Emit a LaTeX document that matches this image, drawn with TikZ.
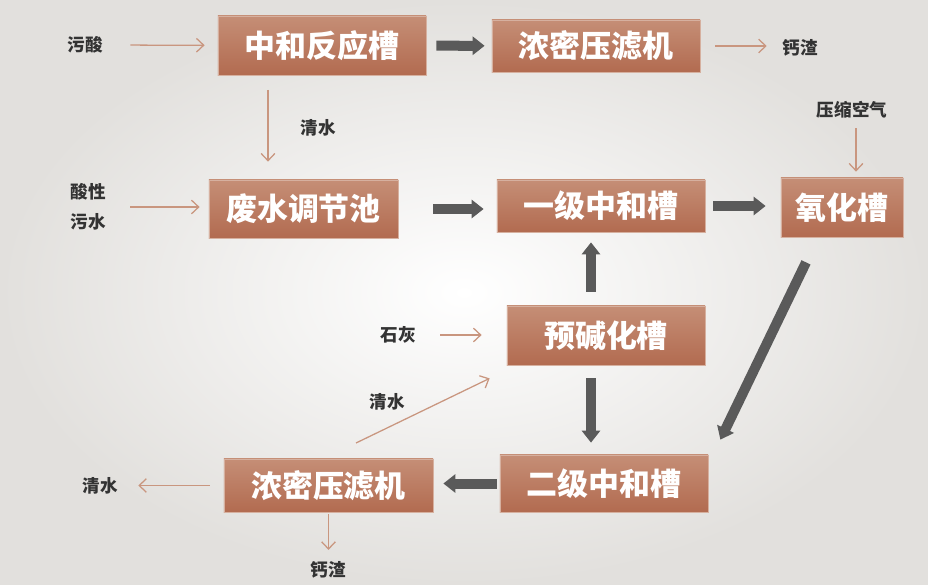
\documentclass[tikz,border=0pt]{standalone}
\usepackage{fontspec}
\setmainfont{Noto Sans CJK SC}
\usepackage{tikz}
\usetikzlibrary{arrows.meta, calc}
\definecolor{boxtop}{HTML}{C58E76}
\definecolor{boxbot}{HTML}{B26B50}
\definecolor{feedline}{HTML}{C9967F}
\definecolor{flowline}{HTML}{5A5A5A}
\definecolor{lbltext}{HTML}{333333}
\definecolor{bgedge}{HTML}{E2E0DD}

\begin{document}
\begin{tikzpicture}[x=0.025cm, y=-0.025cm,
      blk/.style={top color=boxtop, bottom color=boxbot, draw=boxtop!70!white, line width=0.5pt,
                  text=white, font=\fontsize{22}{25}\selectfont\bfseries, inner sep=0pt,
                  minimum width=5.2cm, minimum height=1.3cm},
      lbl/.style={text=lbltext, font=\fontsize{12.5}{21}\selectfont\bfseries, align=center, inner sep=1pt},
      feed/.style={draw=feedline, line width=0.9pt, -{Straight Barb[length=0.18cm, width=0.34cm]}},
      flow/.style={draw=flowline, line width=0.25cm, -{Triangle[length=0.3cm, width=0.45cm]}}]
      % background
      \shade[inner color=white, outer color=bgedge] (0,0) rectangle (928,585);
      \useasboundingbox (0,0) rectangle (928,585);

      % process boxes
      \node[blk, minimum height=1.475cm] (react) at (322,45.5) {中和反应槽};
      \node[blk] (press) at (596,46) {浓密压滤机};
      \node[blk, minimum width=4.725cm, minimum height=1.45cm] (pool) at (303.5,209) {废水调节池};
      \node[blk] (first) at (601,206) {一级中和槽};
      \node[blk, minimum width=3.05cm, minimum height=1.475cm] (oxid) at (842,207.5) {氧化槽};
      \node[blk, minimum width=4.95cm, minimum height=1.475cm] (prealk) at (606,335.5) {预碱化槽};
      \node[blk, minimum height=1.425cm] (second) at (604,483.5) {二级中和槽};
      \node[blk, minimum width=5.225cm, minimum height=1.325cm] (pressb) at (328.5,485.5) {浓密压滤机};

      % side labels
      \node[lbl] (acid) at (85,45) {污酸};
      \node[lbl] (slag1) at (800,48) {钙渣};
      \node[lbl] (water1) at (318,128) {清水};
      \node[lbl] (waste) at (88,207) {酸性\\污水};
      \node[lbl] (air) at (852,110) {压缩空气};
      \node[lbl] (lime) at (398,335) {石灰};
      \node[lbl] (water2) at (387,402) {清水};
      \node[lbl] (water3) at (100,486) {清水};
      \node[lbl] (slag2) at (328,570) {钙渣};

      \coordinate (c1) at (268,0);
      \coordinate (c2) at (856,0);
      \coordinate (c3) at (356,443);
      \coordinate (c4) at (591,0);

      % thin feeds
      \draw[feed, shorten <=0.65cm, shorten >=0.325cm] (acid) -- (react);
      \draw[feed, shorten <=0.375cm, shorten >=0.35cm] (press.east) -- (press.east -| slag1.west);
      \draw[feed, shorten <=0.36cm, shorten >=0.45cm] (react.south -| c1) -- (pool.north -| c1);
      \draw[feed, shorten <=0.575cm, shorten >=0.225cm] (waste.east) -- (waste.east -| pool.west);
      \draw[feed, shorten <=0.2cm, shorten >=0.15cm] (air.south -| c2) -- (oxid.north -| c2);
      \draw[feed, shorten <=0.575cm, shorten >=0.625cm] (lime.east) -- (lime.east -| prealk.west);
      \draw[feed] (c3) -- ($(prealk.south west)+(-17,13)$);
      \draw[feed, shorten <=0.35cm, shorten >=0.475cm] (pressb.west) -- (pressb.west -| water3.east);
      \draw[feed, shorten <=0.05cm, shorten >=0.25cm] (pressb.south) -- (pressb.south |- slag2.north);

      % main flow
      \draw[flow, shorten <=0.25cm, shorten >=0.175cm] (react) -- (press);
      \draw[flow, shorten <=0.875cm, shorten >=0.325cm] (pool.east) -- (pool.east -| first.west);
      \draw[flow, shorten <=0.2cm, shorten >=0.375cm] (first.east) -- (first.east -| oxid.west);
      \draw[flow, shorten <=0.35cm, shorten >=0.25cm] (prealk.north -| c4) -- (first.south -| c4);
      \draw[flow, shorten <=0.325cm, shorten >=0.3cm] (prealk.south -| c4) -- (second.north -| c4);
      \draw[flow] ($(oxid.south)+(-36,25)$) -- ($(second.north east)+(12,-15)$);
      \draw[flow, shorten <=0.075cm, shorten >=0.25cm] (second.west) -- (second.west -| pressb.east);
    \end{tikzpicture}
\end{document}
